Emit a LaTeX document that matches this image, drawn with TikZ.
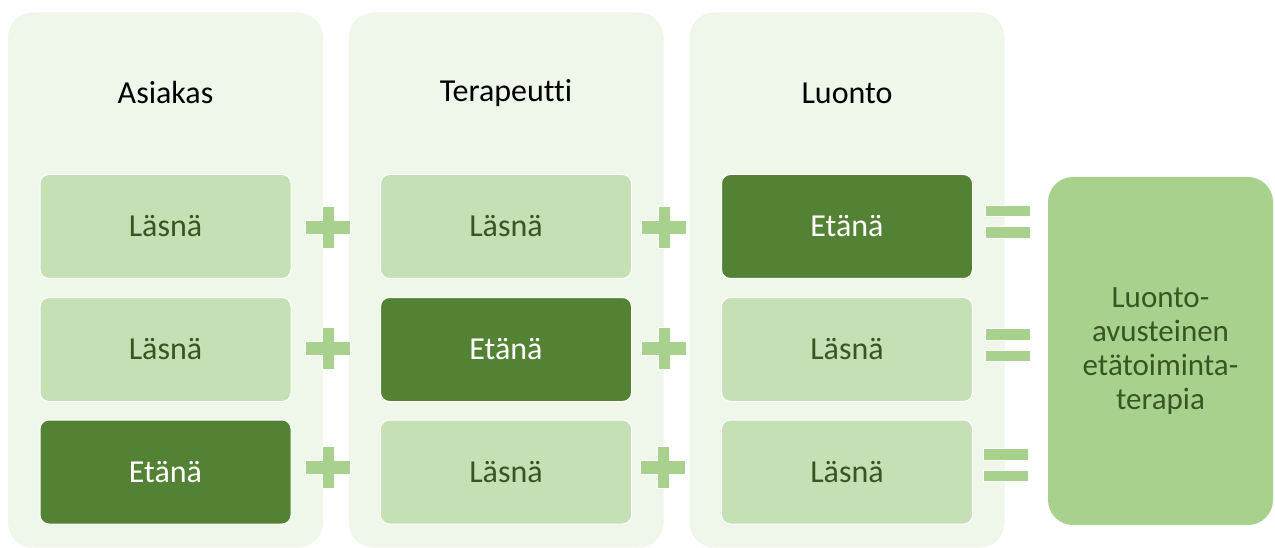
\documentclass[tikz,border=0pt]{standalone}
\usepackage{fontspec}
\setmainfont{Carlito}[Ligatures=NoCommon]
\definecolor{colbg}{HTML}{EFF6EA}
\definecolor{lightbox}{HTML}{C5E0B4}
\definecolor{darkbox}{HTML}{548235}
\definecolor{signc}{HTML}{A9D18E}
\definecolor{txtgreen}{HTML}{375623}
\tikzset{
  colbox/.style={rectangle, rounded corners=25pt, fill=colbg, minimum width=315pt, minimum height=535pt, inner sep=0pt},
  titletext/.style={font=\fontsize{32}{38}\selectfont, text=black},
  lbox/.style={rectangle, rounded corners=9pt, fill=lightbox, draw=white, line width=1pt, minimum width=251pt, minimum height=104pt, inner sep=0pt, font=\fontsize{32}{38}\selectfont, text=txtgreen},
  dbox/.style={lbox, fill=darkbox, text=white},
  resbox/.style={rectangle, rounded corners=25pt, fill=signc, minimum width=225pt, minimum height=348pt, inner sep=0pt, align=center, font=\fontsize{31}{34}\selectfont, text=txtgreen},
  signstyle/.style={fill=signc, draw=white, line width=1pt},
  pics/plussign/.style={code={
    \path[signstyle] (-22.5,-7) -- (-6,-7) -- (-6,-21) -- (6,-21) -- (6,-7) -- (22.5,-7) -- (22.5,7) -- (6,7) -- (6,21) -- (-6,21) -- (-6,7) -- (-22.5,7) -- cycle;
  }},
  pics/eqsign/.style={code={
    \path[signstyle] (-22.5,-16.5) rectangle (22.5,-5);
    \path[signstyle] (-22.5,5) rectangle (22.5,16.5);
  }}
}
\begin{document}
\begin{tikzpicture}[x=1pt,y=-1pt]
\useasboundingbox (0,0) rectangle (1275,548);
% columns
\node[colbox] (c1) at (165.5,280) {};
\node[colbox] (c2) at (506,280) {};
\node[colbox] (c3) at (847,280) {};
% titles
\node[titletext] (t1) at (165.5,93) {Asiakas};
\node[titletext] (t2) at (506,93) {Terapeutti};
\node[titletext] (t3) at (847,93) {Luonto};
% boxes
\node[lbox] (a1) at (165.5,226.5) {Läsnä};
\node[lbox] (a2) at (165.5,349.5) {Läsnä};
\node[dbox] (a3) at (165.5,472) {Etänä};
\node[lbox] (b1) at (506,226.5) {Läsnä};
\node[dbox] (b2) at (506,349.5) {Etänä};
\node[lbox] (b3) at (506,472) {Läsnä};
\node[dbox] (d1) at (847,226.5) {Etänä};
\node[lbox] (d2) at (847,349.5) {Läsnä};
\node[lbox] (d3) at (847,472) {Läsnä};
% signs
\pic at (328,228) {plussign};
\pic at (328,348) {plussign};
\pic at (328,467) {plussign};
\pic at (664,228) {plussign};
\pic at (664,348) {plussign};
\pic at (663,467) {plussign};
\pic at (1008,222) {eqsign};
\pic at (1008,345) {eqsign};
\pic at (1006,465) {eqsign};
% result
\node[resbox] (r) at (1160.5,351) {Luonto-\\avusteinen\\etätoiminta-\\terapia};
\end{tikzpicture}
\end{document}
